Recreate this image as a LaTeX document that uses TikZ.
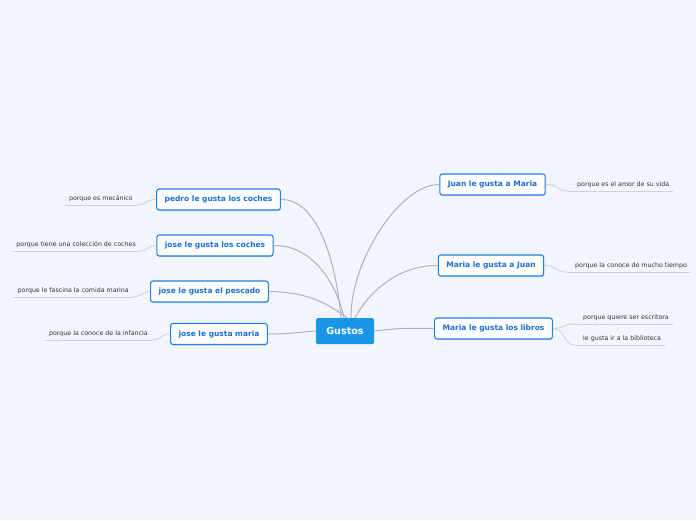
\documentclass[tikz,border=0pt]{standalone}
\usepackage{fontspec}
\setmainfont{DejaVu Sans}
\usetikzlibrary{shadows}
\definecolor{bgc}{HTML}{F2F5FD}
\definecolor{boxblue}{HTML}{1E80E6}
\definecolor{txtblue}{HTML}{1A6FD6}
\definecolor{rootblue}{HTML}{1A96E8}
\definecolor{linkc}{HTML}{ACB0C2}
\definecolor{leaftxt}{HTML}{333333}
\definecolor{ulc}{HTML}{CDD1DC}
\tikzset{
  sub/.style={draw=boxblue, line width=1.1pt, fill=white, rounded corners=2.5pt,
    font=\fontsize{7.5}{9}\selectfont\bfseries, text=txtblue,
    minimum height=21pt, inner xsep=8pt,
    drop shadow={opacity=0.25, shadow xshift=0.6pt, shadow yshift=-1pt}},
  root/.style={fill=rootblue, rounded corners=1.5pt, text=white,
    font=\fontsize{9.6}{11}\selectfont\bfseries, minimum width=58pt, minimum height=26pt},
  leaf/.style={font=\fontsize{6.3}{7.5}\selectfont, text=leaftxt, inner xsep=4pt, inner ysep=2.5pt},
  ul/.style={draw=ulc, line width=0.9pt},
  link/.style={draw=linkc, line width=1pt},
  leaflink/.style={draw=ulc, line width=0.9pt}
}
\begin{document}
\begin{tikzpicture}[x=1pt,y=-1pt]
\fill[bgc] (0,0) rectangle (696,520);
\useasboundingbox (0,0) rectangle (696,520);

\node[root] (g) at (345,331) {Gustos};

\node[sub] (p) at (218.5,199.5) {pedro le gusta los coches};
\node[sub] (jc) at (215,245.5) {jose le gusta los coches};
\node[sub] (jp) at (209.5,291.5) {jose le gusta el pescado};
\node[sub] (jm) at (219,334) {jose le gusta maria};
\node[sub] (jum) at (492.5,184.5) {Juan le gusta a Maria};
\node[sub] (mj) at (491,265.5) {Maria le gusta a Juan};
\node[sub] (ml) at (493.5,328.5) {Maria le gusta los libros};

% root links
\path (g.north) ++(-4,0) coordinate (g1) (g.north) ++(-1,0) coordinate (g2)
  (g.north) ++(2,0) coordinate (g3) (g.north) ++(6,0) coordinate (g4)
  (g.north) ++(10,0) coordinate (g5);
\draw[link] (p.east) .. controls (318,199) and (336,262) .. (g1);
\draw[link] (jc.east) .. controls (312,245) and (336,282) .. (g2);
\draw[link] (jp.east) .. controls (306,292) and (326,302) .. (g3);
\draw[link] (jm.east) .. controls (292,334) and (300,332) .. (g.west);
\draw[link] (jum.west) .. controls (400,184) and (350,262) .. (g4);
\draw[link] (mj.west) .. controls (400,265) and (370,290) .. (g5);
\draw[link] (g.east) .. controls (400,328) and (410,328) .. (ml.west);

% leaves (left)
\node[leaf, anchor=south east] (l1) at (137,205) {porque es mecánico\hspace{7pt}};
\node[leaf, anchor=south east] (l2) at (140,251) {porque tiene una colección de coches\hspace{9pt}};
\node[leaf, anchor=south east] (l3) at (133,297) {porque le fascina la comida marina\hspace{8pt}};
\node[leaf, anchor=south east] (l4) at (152,340) {porque la conoce de la infancia\hspace{8pt}};
% leaves (right)
\node[leaf, anchor=south west] (r1) at (569,191) {\hspace{4pt}porque es el amor de su vida};
\node[leaf, anchor=south west] (r2) at (566,272) {\hspace{5pt}porque la conoce de mucho tiempo};
\node[leaf, anchor=south west] (r3) at (575,324) {\hspace{4pt}porque quiere ser escritora};
\node[leaf, anchor=south west] (r4) at (575,345) {\hspace{4pt}le gusta ir a la biblioteca};

\foreach \n in {l1,l2,l3,l4,r1,r2,r3,r4}
  \draw[ul] (\n.south west) -- (\n.south east);

\draw[leaflink] (p.west) .. controls (147,199) and (146,205) .. (l1.south east);
\draw[leaflink] (jc.west) .. controls (148,245) and (148,251) .. (l2.south east);
\draw[leaflink] (jp.west) .. controls (141,292) and (141,297) .. (l3.south east);
\draw[leaflink] (jm.west) .. controls (161,334) and (161,340) .. (l4.south east);
\draw[leaflink] (jum.east) .. controls (558,184) and (557,191) .. (r1.south west);
\draw[leaflink] (mj.east) .. controls (556,265) and (555,272) .. (r2.south west);
\draw[leaflink] (ml.east) .. controls (565,328) and (563,324) .. (r3.south west);
\draw[leaflink] (ml.east) .. controls (566,329) and (563,345) .. (r4.south west);
\end{tikzpicture}
\end{document}
